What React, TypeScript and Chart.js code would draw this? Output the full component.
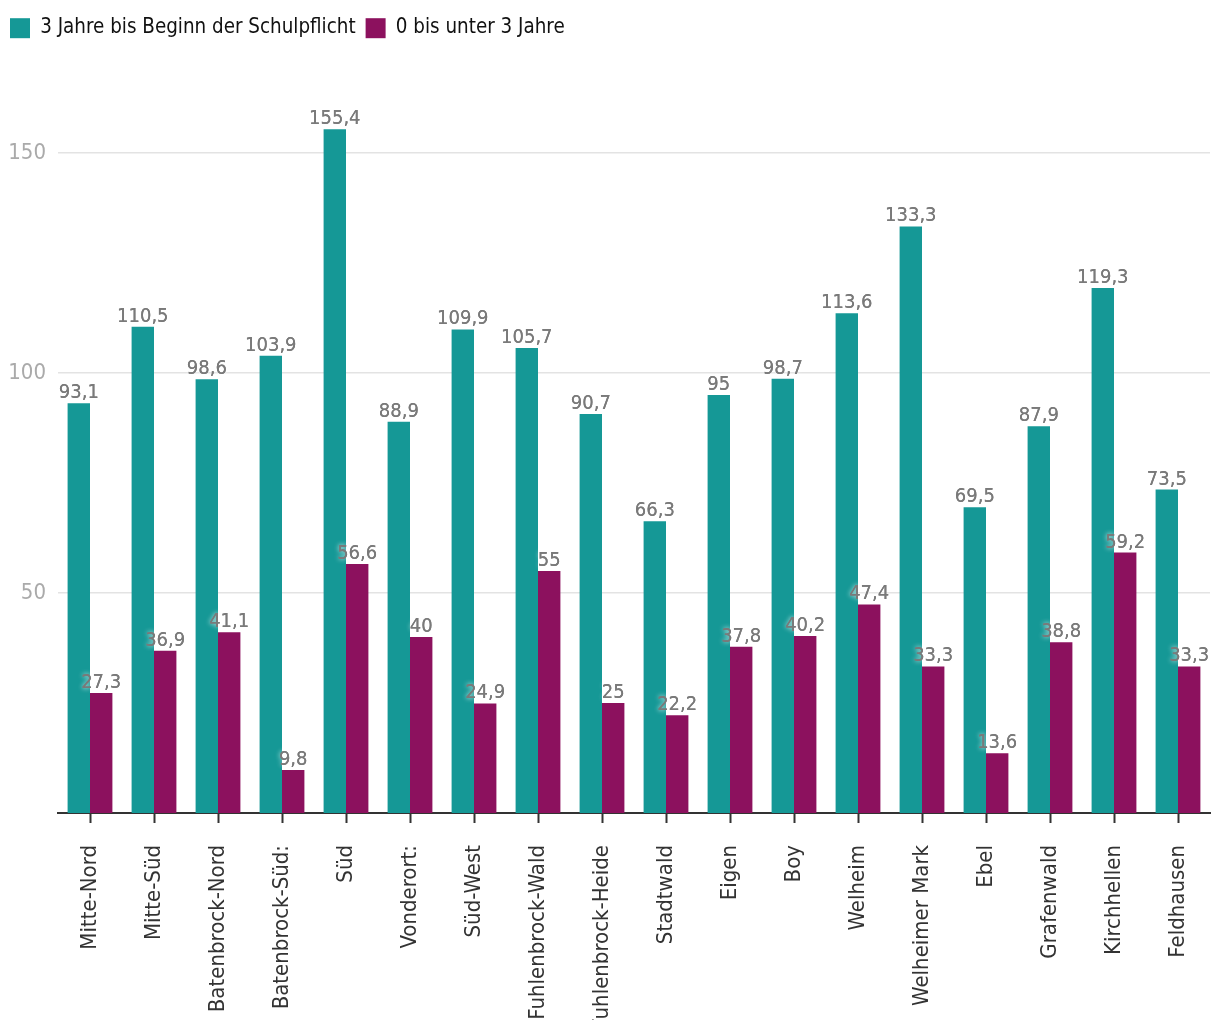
import React, { useEffect, useRef } from "react";
import { Chart, registerables } from "chart.js";

Chart.register(...registerables);

const categories = [
  "Mitte-Nord", "Mitte-Süd", "Batenbrock-Nord", "Batenbrock-Süd:", "Süd", "Vonderort:",
  "Süd-West", "Fuhlenbrock-Wald", "Fuhlenbrock-Heide", "Stadtwald", "Eigen", "Boy",
  "Welheim", "Welheimer Mark", "Ebel", "Grafenwald", "Kirchhellen", "Feldhausen",
];
const series1Name = "3 Jahre bis Beginn der Schulpflicht";
const series1 = [93.1, 110.5, 98.6, 103.9, 155.4, 88.9, 109.9, 105.7, 90.7, 66.3, 95, 98.7, 113.6, 133.3, 69.5, 87.9, 119.3, 73.5];
const series2Name = "0 bis unter 3 Jahre";
const series2 = [27.3, 36.9, 41.1, 9.8, 56.6, 40, 24.9, 55, 25, 22.2, 37.8, 40.2, 47.4, 33.3, 13.6, 38.8, 59.2, 33.3];
const yTicks = [50, 100, 150];

const FONT = "'Liberation Sans Narrow', 'DejaVu Sans Condensed', Roboto, sans-serif";
const TEAL = "#159896";
const PURPLE = "#8c115e";

const fmt = (v: number) => String(v).replace(".", ",");

const dataLabels = {
  id: "dataLabels",
  afterDatasetsDraw(chart: any) {
    const ctx = chart.ctx;
    ctx.save();
    ctx.font = `20px ${FONT}`;
    ctx.textAlign = "center";
    ctx.textBaseline = "alphabetic";
    chart.data.datasets.forEach((ds: any, di: number) => {
      const meta = chart.getDatasetMeta(di);
      meta.data.forEach((el: any, i: number) => {
        const txt = fmt(ds.data[i]);
        ctx.shadowColor = "rgba(255,255,255,1)";
        ctx.shadowBlur = 5;
        ctx.fillStyle = "#7a7a7a";
        ctx.fillText(txt, el.x, el.y - 5);
        ctx.shadowBlur = 0;
        ctx.fillText(txt, el.x, el.y - 5);
      });
    });
    ctx.restore();
  },
};

const legendSpacing = {
  id: "legendSpacing",
  beforeInit(chart: any) {
    const orig = chart.legend.fit;
    chart.legend.fit = function () {
      orig.bind(chart.legend)();
      this.height = 57;
    };
  },
};

export default function App() {
  const ref = useRef<HTMLCanvasElement>(null);
  useEffect(() => {
    if (!ref.current) return;
    const chart = new Chart(ref.current, {
      type: "bar",
      data: {
        labels: categories,
        datasets: [
          { label: series1Name, data: series1, backgroundColor: TEAL, categoryPercentage: 0.7, barPercentage: 1 },
          { label: series2Name, data: series2, backgroundColor: PURPLE, categoryPercentage: 0.7, barPercentage: 1 },
        ],
      },
      options: {
        animation: false,
        responsive: false,
        layout: { padding: { left: 0, right: 10, top: 8, bottom: 0 } },
        plugins: {
          tooltip: { enabled: false },
          legend: {
            position: "top",
            align: "start",
            labels: {
              boxWidth: 20,
              boxHeight: 20,
              padding: 10,
              color: "#111",
              font: { family: FONT, size: 20.4 },
            },
          },
        },
        scales: {
          x: {
            grid: {
              offset: false,
              drawOnChartArea: false,
              drawTicks: true,
              tickLength: 10,
              tickWidth: 2,
              tickColor: "#333",
            },
            border: { display: true, color: "#333", width: 2 },
            ticks: {
              minRotation: 90,
              maxRotation: 90,
              autoSkip: false,
              padding: 22,
              color: "#333",
              font: { family: FONT, size: 22 },
            },
            afterFit(scale: any) {
              scale.height = 207;
              scale.paddingLeft = 0;
              scale.paddingRight = 0;
            },
          },
          y: {
            min: 0,
            max: 170,
            afterBuildTicks(scale: any) {
              scale.ticks = yTicks.map((v) => ({ value: v }));
            },
            afterFit(scale: any) {
              scale.width = 58;
            },
            grid: { color: "#e3e3e3", lineWidth: 1.5, drawTicks: false },
            border: { display: false },
            ticks: {
              padding: 12,
              color: "#aaa",
              font: { family: FONT, size: 22 },
              callback: (v: any) => String(v),
            },
          },
        },
      },
      plugins: [dataLabels, legendSpacing],
    });
    return () => chart.destroy();
  }, []);
  return (
    <div style={{ position: "fixed", left: 0, top: 0, width: 1220, height: 1020, background: "#fff" }}>
      <canvas ref={ref} width={1220} height={1020} />
    </div>
  );
}
